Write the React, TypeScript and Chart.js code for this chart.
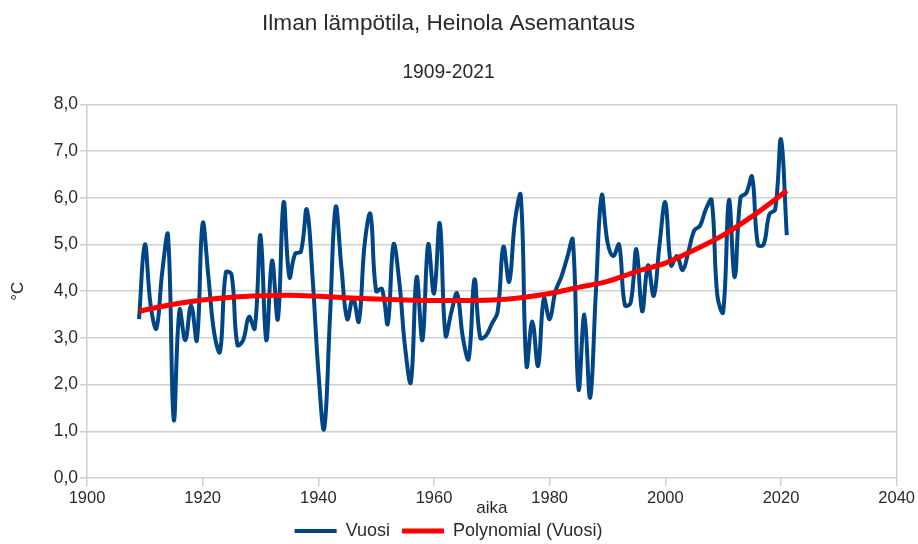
import React, { useEffect, useRef } from "react";
import { Chart, registerables } from "chart.js";

Chart.register(...registerables);

const YEARS = [
  1909, 1910, 1911, 1912, 1913, 1914, 1915, 1916, 1917, 1918, 1919,
  1920, 1921, 1922, 1923, 1924, 1925, 1926, 1927, 1928, 1929,
  1930, 1931, 1932, 1933, 1934, 1935, 1936, 1937, 1938, 1939,
  1940, 1941, 1942, 1943, 1944, 1945, 1946, 1947, 1948, 1949,
  1950, 1951, 1952, 1953, 1954, 1955, 1956, 1957, 1958, 1959,
  1960, 1961, 1962, 1963, 1964, 1965, 1966, 1967, 1968, 1969,
  1970, 1971, 1972, 1973, 1974, 1975, 1976, 1977, 1978, 1979,
  1980, 1981, 1982, 1983, 1984, 1985, 1986, 1987, 1988, 1989,
  1990, 1991, 1992, 1993, 1994, 1995, 1996, 1997, 1998, 1999,
  2000, 2001, 2002, 2003, 2004, 2005, 2006, 2007, 2008, 2009,
  2010, 2011, 2012, 2013, 2014, 2015, 2016, 2017, 2018, 2019,
  2020, 2021,
];

const VUOSI = [
  3.4, 5.0, 3.7, 3.2, 4.4, 5.2, 1.25, 3.6, 2.95, 3.7, 2.95,
  5.45, 4.3, 3.1, 2.7, 4.4, 4.35, 2.85, 2.95, 3.45, 3.2,
  5.2, 2.95, 4.65, 3.4, 5.9, 4.3, 4.8, 4.85, 5.75, 4.3,
  2.3, 1.05, 3.4, 5.8, 4.5, 3.4, 3.85, 3.35, 5.0, 5.65,
  4.0, 4.05, 3.3, 5.0, 4.2, 2.8, 2.05, 4.3, 2.95, 5.0,
  3.95, 5.45, 3.05, 3.55, 3.95, 3.0, 2.55, 4.25, 3.0, 3.05,
  3.3, 3.55, 4.95, 4.2, 5.5, 6.05, 2.4, 3.35, 2.4, 3.85,
  3.4, 4.0, 4.3, 4.7, 5.1, 1.9, 3.5, 1.72, 4.0, 6.05,
  5.05, 4.75, 5.0, 3.7, 3.75, 4.9, 3.57, 4.55, 3.9, 5.0,
  5.9, 4.55, 4.75, 4.45, 4.85, 5.3, 5.4, 5.75, 5.95, 3.9,
  3.55, 5.95, 4.3, 6.0, 6.1, 6.45, 5.0, 5.0, 5.65, 5.75,
  7.25, 5.2,
];

const TREND_YEARS = [
  1909, 1915, 1920, 1925, 1930, 1935, 1940, 1945, 1950, 1955, 1960, 1965,
  1970, 1975, 1980, 1985, 1990, 1995, 2000, 2005, 2010, 2015, 2021,
];
const TREND_VALUES = [
  3.57, 3.72, 3.81, 3.87, 3.9, 3.91, 3.89, 3.86, 3.83, 3.81, 3.8, 3.8,
  3.81, 3.86, 3.95, 4.08, 4.21, 4.42, 4.6, 4.88, 5.2, 5.6, 6.15,
];

const X_TICKS = [1900, 1920, 1940, 1960, 1980, 2000, 2020, 2040];
const Y_TICKS = [0, 1, 2, 3, 4, 5, 6, 7, 8];

const FONT = '"Liberation Sans", Arial, sans-serif';
const TEXT = "#2a2a2a";
const GRID = "#d0d0d0";

export default function App() {
  const ref = useRef<HTMLCanvasElement>(null);

  useEffect(() => {
    if (!ref.current) return;
    const chart = new Chart(ref.current, {
      type: "line",
      data: {
        datasets: [
          {
            label: "Vuosi",
            data: YEARS.map((yr, i) => ({ x: yr, y: VUOSI[i] })),
            borderColor: "#004586",
            backgroundColor: "#004586",
            borderWidth: 4,
            pointRadius: 0,
            tension: 0.4,
            order: 1,
          },
          {
            label: "Polynomial (Vuosi)",
            data: TREND_YEARS.map((yr, i) => ({ x: yr, y: TREND_VALUES[i] })),
            borderColor: "#ff0000",
            backgroundColor: "#ff0000",
            borderWidth: 5,
            pointRadius: 0,
            cubicInterpolationMode: "monotone",
            order: 0,
          },
        ],
      },
      options: {
        responsive: false,
        animation: false,
        layout: { padding: { left: 0, right: 21, top: 0, bottom: -6 } },
        plugins: {
          title: {
            display: true,
            text: "Ilman lämpötila, Heinola Asemantaus",
            font: { family: FONT, size: 22.6, weight: "normal" },
            color: TEXT,
            padding: { top: 10, bottom: 24 },
          },
          subtitle: {
            display: true,
            text: "1909-2021",
            font: { family: FONT, size: 19.3, weight: "normal" },
            color: TEXT,
            padding: { top: 0, bottom: 20 },
          },
          legend: {
            position: "bottom",
            labels: {
              usePointStyle: true,
              pointStyle: "line",
              pointStyleWidth: 42,
              font: { family: FONT, size: 18 },
              color: TEXT,
              padding: 12,
              sort: (a: any, b: any) => a.datasetIndex - b.datasetIndex,
            },
          },
          tooltip: { enabled: false },
        },
        scales: {
          x: {
            type: "linear",
            min: 1900,
            max: 2040,
            afterBuildTicks: (s: any) => {
              s.ticks = X_TICKS.map((v) => ({ value: v }));
            },
            afterFit: (s: any) => {
              s.height = 32;
            },
            ticks: {
              callback: (v: any) => String(v),
              font: { family: FONT, size: 16.5 },
              color: TEXT,
              padding: 3,
              maxRotation: 0,
              autoSkip: false,
            },
            grid: {
              color: (ctx: any) =>
                ctx.tick && (ctx.tick.value === 1900 || ctx.tick.value === 2040)
                  ? GRID
                  : "rgba(0,0,0,0)",
              tickColor: GRID,
              tickLength: 8,
              lineWidth: 1.5,
            },
            border: { display: false },
            title: {
              display: true,
              text: "aika",
              font: { family: FONT, size: 17 },
              color: TEXT,
              padding: { top: 0, bottom: -9 },
            },
          },
          y: {
            min: 0,
            max: 8,
            afterBuildTicks: (s: any) => {
              s.ticks = Y_TICKS.map((v) => ({ value: v }));
            },
            afterFit: (s: any) => {
              s.width = 87;
            },
            ticks: {
              callback: (v: any) => Number(v).toFixed(1).replace(".", ","),
              font: { family: FONT, size: 17.5 },
              color: TEXT,
              padding: 2,
            },
            grid: {
              color: GRID,
              tickColor: GRID,
              tickLength: 7,
              lineWidth: 1.5,
            },
            border: { display: false },
            title: {
              display: true,
              text: "°C",
              font: { family: FONT, size: 17 },
              color: TEXT,
              padding: { top: 8, bottom: 0 },
            },
          },
        },
      },
    } as any);
    return () => chart.destroy();
  }, []);

  return (
    <div
      style={{
        position: "fixed",
        left: 0,
        top: 0,
        width: 918,
        height: 544,
        background: "#ffffff",
      }}
    >
      <canvas ref={ref} width={918} height={544} />
    </div>
  );
}
